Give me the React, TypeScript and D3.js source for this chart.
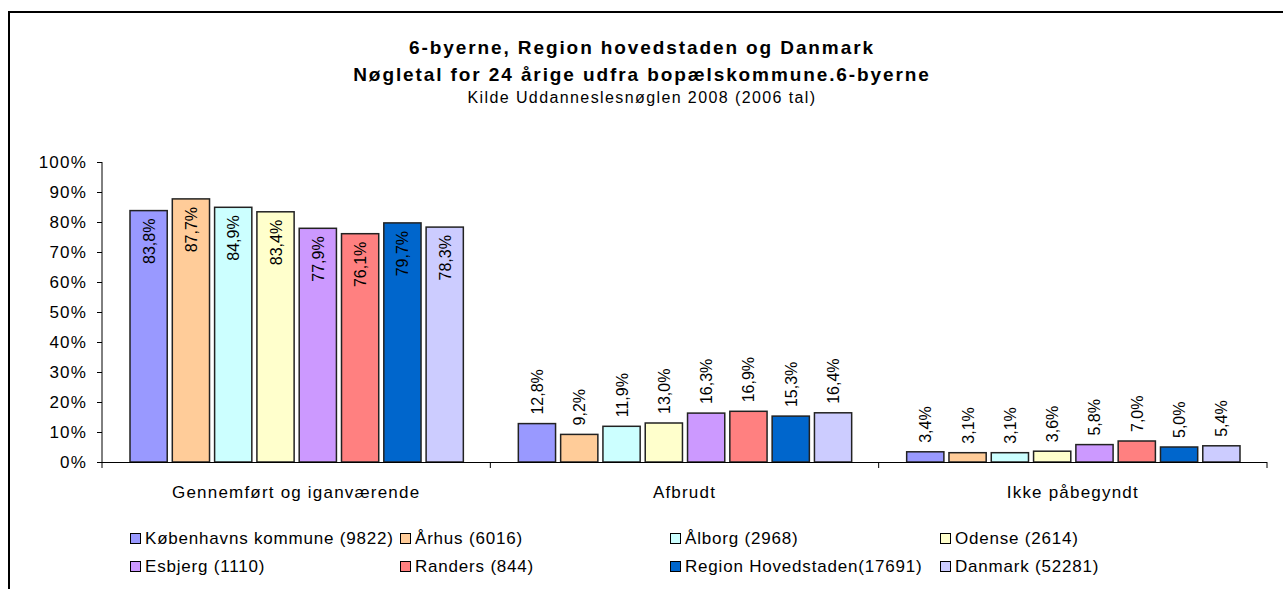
import React, { useEffect, useRef } from "react";
import * as d3 from "d3";

// chart data
const categories = ["Gennemført og iganværende", "Afbrudt", "Ikke påbegyndt"];
const seriesNames = [
  "Københavns kommune (9822)",
  "Århus (6016)",
  "Ålborg (2968)",
  "Odense (2614)",
  "Esbjerg (1110)",
  "Randers (844)",
  "Region Hovedstaden(17691)",
  "Danmark (52281)",
];
const seriesColors = ["#9999ff", "#ffcc99", "#ccffff", "#ffffcc", "#cc99ff", "#ff8080", "#0066cc", "#ccccff"];
const kobenhavn = [83.8, 12.8, 3.4];
const aarhus = [87.7, 9.2, 3.1];
const aalborg = [84.9, 11.9, 3.1];
const odense = [83.4, 13.0, 3.6];
const esbjerg = [77.9, 16.3, 5.8];
const randers = [76.1, 16.9, 7.0];
const regionH = [79.7, 15.3, 5.0];
const danmark = [78.3, 16.4, 5.4];
const seriesValues = [kobenhavn, aarhus, aalborg, odense, esbjerg, randers, regionH, danmark];
const yTicks = [0, 10, 20, 30, 40, 50, 60, 70, 80, 90, 100];

const W = 1283;
const H = 589;
const plot = { left: 102, right: 1267, top: 162, bottom: 462 };
const font = "'Liberation Sans', Arial, sans-serif";

const drawChart = (el: SVGSVGElement) => {
  const svg = d3.select(el);
  svg.selectAll("*").remove();

  // outer frame (continues past the window)
  svg.append("rect")
    .attr("x", 9).attr("y", 12)
    .attr("width", W + 20).attr("height", H + 20)
    .attr("fill", "#fff").attr("stroke", "#000").attr("stroke-width", 2);

  // titles
  const titles = [
    { t: "6-byerne, Region hovedstaden og Danmark", y: 54, bold: true },
    { t: "Nøgletal for 24 årige udfra bopælskommune.6-byerne", y: 81, bold: true },
    { t: "Kilde Uddanneslesnøglen 2008 (2006 tal)", y: 103, bold: false },
  ];
  svg.selectAll(".title")
    .data(titles)
    .enter().append("text")
    .attr("x", 642).attr("y", d => d.y)
    .attr("text-anchor", "middle")
    .attr("font-family", font)
    .attr("font-size", d => (d.bold ? 19 : 16))
    .attr("font-weight", d => (d.bold ? "bold" : "normal"))
    .attr("letter-spacing", d => (d.bold ? 1.9 : 1.4))
    .text(d => d.t);

  const y = d3.scaleLinear().domain([0, 100]).range([plot.bottom, plot.top]);
  const x0 = d3.scaleBand().domain(categories).range([plot.left, plot.right]);
  const x1 = d3.scaleBand()
    .domain(seriesNames)
    .range([28, x0.bandwidth() - 27])
    .paddingInner(0.12)
    .paddingOuter(0);

  // y axis
  const yAxis = svg.append("g");
  yAxis.append("line")
    .attr("x1", plot.left).attr("x2", plot.left)
    .attr("y1", plot.top).attr("y2", plot.bottom)
    .attr("stroke", "#000");
  yAxis.selectAll(".yt")
    .data(yTicks)
    .enter().append("line")
    .attr("x1", plot.left - 5).attr("x2", plot.left)
    .attr("y1", d => y(d) + 0.5).attr("y2", d => y(d) + 0.5)
    .attr("stroke", "#000");
  yAxis.selectAll(".yl")
    .data(yTicks)
    .enter().append("text")
    .attr("x", 87).attr("y", d => y(d) + 6)
    .attr("text-anchor", "end")
    .attr("font-family", font).attr("font-size", 17)
    .attr("letter-spacing", 1.2)
    .text(d => `${d}%`);

  // bars
  const groups = svg.selectAll(".cat")
    .data(categories)
    .enter().append("g")
    .attr("transform", d => `translate(${x0(d)},0)`);

  groups.each(function (cat, ci) {
    const g = d3.select(this);
    const rows = seriesNames.map((name, si) => ({ name, color: seriesColors[si], v: seriesValues[si][ci] }));
    g.selectAll("rect")
      .data(rows)
      .enter().append("rect")
      .attr("x", d => x1(d.name)!)
      .attr("y", d => y(d.v))
      .attr("width", x1.bandwidth())
      .attr("height", d => plot.bottom - y(d.v))
      .attr("fill", d => d.color)
      .attr("stroke", "#222")
      .attr("stroke-width", 1.5);

    // labels go inside tall bars, above short ones
    g.selectAll("text")
      .data(rows)
      .enter().append("text")
      .each(function (d) {
        const top = y(d.v);
        const inside = plot.bottom - top > 100;
        const cx = x1(d.name)! + x1.bandwidth() / 2 + 6;
        d3.select(this)
          .attr("transform", `translate(${cx},${inside ? top + 8 : top - 9}) rotate(-90)`)
          .attr("text-anchor", inside ? "end" : "start");
      })
      .attr("font-family", font).attr("font-size", 16)
      .text(d => `${d.v.toFixed(1).replace(".", ",")}%`);
  });

  // x axis
  svg.append("line")
    .attr("x1", plot.left).attr("x2", plot.right)
    .attr("y1", plot.bottom + 0.5).attr("y2", plot.bottom + 0.5)
    .attr("stroke", "#000");
  const bounds = [...categories.map(c => x0(c)!), plot.right];
  svg.selectAll(".xt")
    .data(bounds)
    .enter().append("line")
    .attr("x1", d => d).attr("x2", d => d)
    .attr("y1", plot.bottom).attr("y2", plot.bottom + 6)
    .attr("stroke", "#000");
  svg.selectAll(".xl")
    .data(categories)
    .enter().append("text")
    .attr("x", d => x0(d)! + x0.bandwidth() / 2)
    .attr("y", 498)
    .attr("text-anchor", "middle")
    .attr("font-family", font).attr("font-size", 17)
    .attr("letter-spacing", 1.2)
    .text(d => d);

  // legend
  const colX = [130, 400, 670, 940];
  const legend = svg.selectAll(".lg")
    .data(seriesNames)
    .enter().append("g")
    .attr("transform", (d, i) => `translate(${colX[i % 4]},${i < 4 ? 533 : 561})`);
  legend.append("rect")
    .attr("x", 0.5).attr("y", 0.5)
    .attr("width", 10).attr("height", 10)
    .attr("fill", (d, i) => seriesColors[i])
    .attr("stroke", "#000");
  legend.append("text")
    .attr("x", 15).attr("y", 11)
    .attr("font-family", font).attr("font-size", 17)
    .attr("letter-spacing", 0.8)
    .text(d => d);
};

export default function App() {
  const ref = useRef<SVGSVGElement>(null);
  useEffect(() => {
    if (ref.current) drawChart(ref.current);
  }, []);
  return (
    <svg
      ref={ref}
      width={W}
      height={H}
      style={{ position: "absolute", left: 0, top: 0, background: "#fff" }}
    />
  );
}
